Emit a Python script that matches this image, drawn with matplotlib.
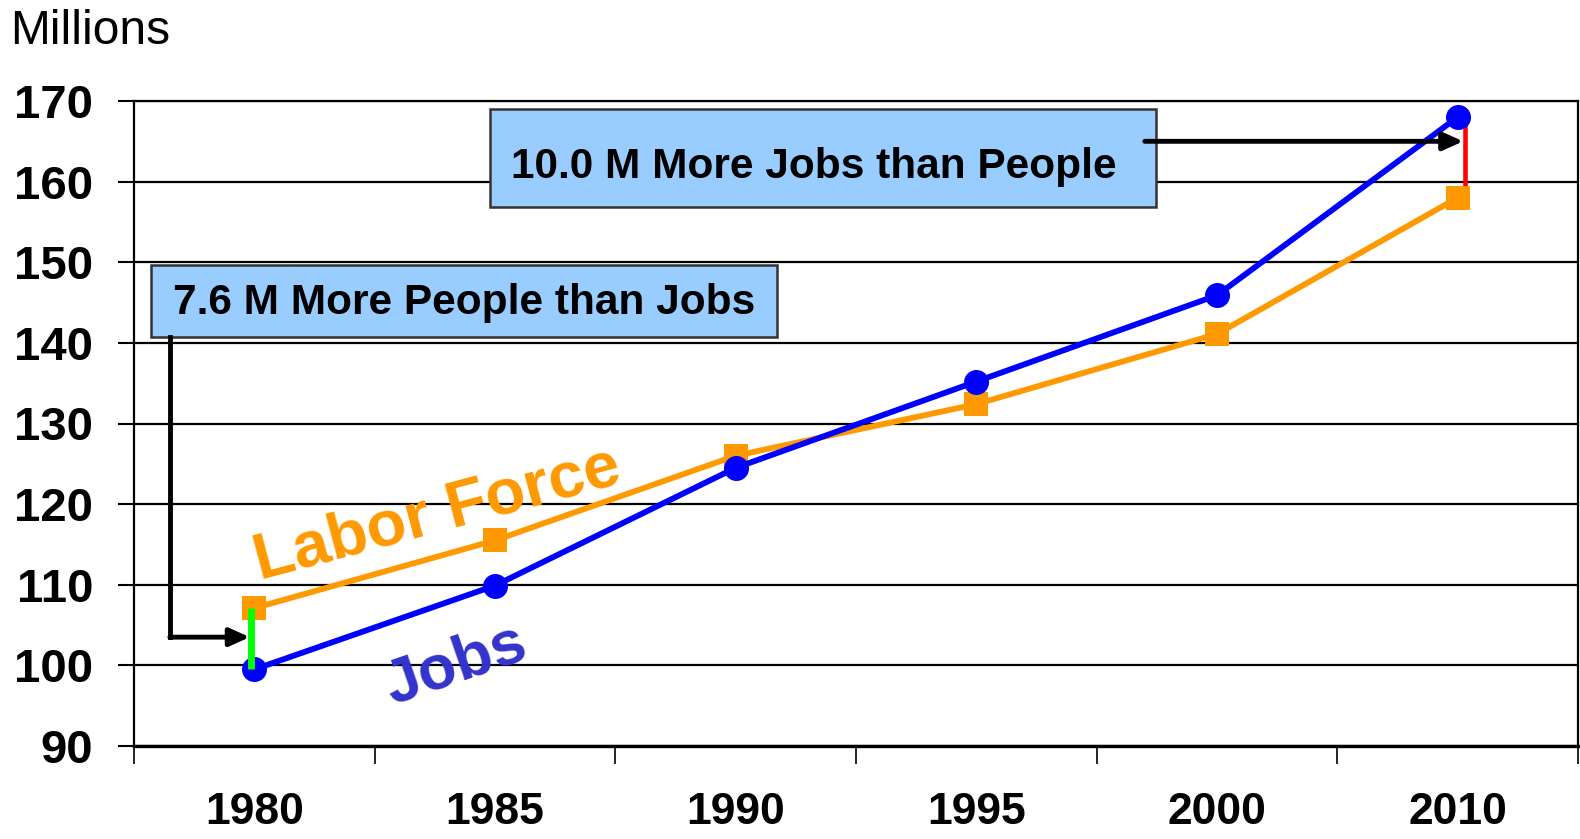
import matplotlib
matplotlib.use("Agg")
import matplotlib.pyplot as plt
from matplotlib.patches import Rectangle

plt.rcParams['font.family'] = ['Liberation Sans', 'DejaVu Sans']

years = ["1980", "1985", "1990", "1995", "2000", "2010"]
jobs = [99.5, 109.9, 124.5, 135.2, 145.9, 168.0]
labor_force = [107.1, 115.5, 126.0, 132.4, 141.1, 158.0]
y_ticks = [90, 100, 110, 120, 130, 140, 150, 160, 170]
gap_1980 = "7.6 M More People than Jobs"
gap_2010 = "10.0 M More Jobs than People"

BLUE = "#0000FF"
ORANGE = "#FF9900"

fig = plt.figure(figsize=(15.8, 8.39), dpi=100)
ax = fig.add_axes([134/1580, 1-746/839, 1444/1580, 645/839])

x = list(range(len(years)))
ax.set_xlim(-0.5, len(years) - 0.5)
ax.set_ylim(y_ticks[0], y_ticks[-1])

# grid
for v in y_ticks:
    ax.axhline(v, color="black", lw=1.6, zorder=1)

# series
ax.plot(x, labor_force, color=ORANGE, lw=4.2, marker="s", markersize=17.5,
        markeredgewidth=0, zorder=4, solid_capstyle="butt")
ax.plot(x, jobs, color=BLUE, lw=4.2, marker="o", markersize=18,
        markeredgewidth=0, zorder=5, solid_capstyle="butt")

# gap markers
ax.plot([x[0] - 0.015, x[0] - 0.015], [labor_force[0], jobs[0]], color="#00FF00",
        lw=5, zorder=6, solid_capstyle="butt")
ax.plot([x[-1] + 0.03, x[-1] + 0.03], [labor_force[-1], jobs[-1]], color="#FF0000",
        lw=3.3, zorder=3, solid_capstyle="butt")

# boxes
ax.add_patch(Rectangle((0.979, 156.9), 3.746 - 0.979, 169.0 - 156.9,
                       facecolor="#99CCFF", edgecolor="#333333", lw=1.8, zorder=7))
ax.text(1.067, 161.8, gap_2010, fontsize=30.5, fontweight="bold", color="black",
        ha="left", va="center", zorder=8)
ax.add_patch(Rectangle((-0.429, 140.75), 2.170 + 0.429, 149.6 - 140.75,
                       facecolor="#99CCFF", edgecolor="#333333", lw=1.8, zorder=7))
ax.text(-0.337, 145.0, gap_1980, fontsize=30.5, fontweight="bold", color="black",
        ha="left", va="center", zorder=8)

# arrows
ax.plot([-0.351, -0.351], [140.75, 103.5], color="black", lw=3.5, zorder=8,
        solid_capstyle="projecting")
ax.annotate("", xy=(-0.019, 103.5), xytext=(-0.351, 103.5),
            arrowprops=dict(arrowstyle="-|>,head_length=0.4,head_width=0.18",
                            mutation_scale=30, color="black", lw=3.5,
                            shrinkA=0, shrinkB=0), zorder=8)
ax.annotate("", xy=(5.023, 165.0), xytext=(3.70, 165.0),
            arrowprops=dict(arrowstyle="-|>,head_length=0.4,head_width=0.18",
                            mutation_scale=30, color="black", lw=3.5,
                            shrinkA=0, shrinkB=0), zorder=9)

# series labels
ax.text(0.761, 118.75, "Labor Force", fontsize=47, fontweight="bold", color=ORANGE,
        rotation=15, ha="center", va="center", rotation_mode="anchor", zorder=6)
ax.text(0.836, 100.0, "Jobs", fontsize=45, fontweight="bold", color="#3333CC",
        rotation=19, ha="center", va="center", rotation_mode="anchor", zorder=6)

# axes styling
for s in ax.spines.values():
    s.set_color("black")
    s.set_linewidth(1.6)
ax.spines["bottom"].set_linewidth(2.4)

ax.set_yticks(y_ticks)
ax.set_yticklabels([str(v) for v in y_ticks], fontsize=34, fontweight="bold")
ax.tick_params(axis="y", direction="out", length=11.5, width=1.5, pad=18)

ax.set_xticks([i - 0.5 for i in range(len(years) + 1)])
ax.set_xticklabels([])
ax.tick_params(axis="x", which="major", direction="out", length=13, width=1.2)
ax.set_xticks(x, minor=True)
ax.set_xticklabels(years, minor=True, fontsize=32, fontweight="bold")
ax.tick_params(axis="x", which="minor", length=0, pad=33)

fig.text(10/1580, 1-44/839, "Millions", fontsize=34.5, ha="left", va="baseline")

fig.savefig("out.png", dpi=100)
